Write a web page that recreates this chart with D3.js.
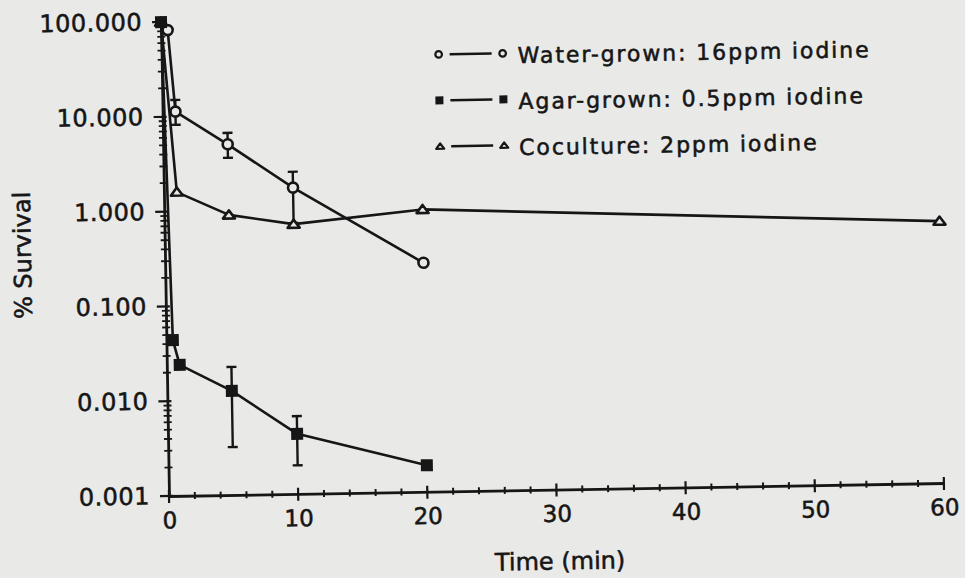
<!DOCTYPE html>
<html>
<head>
<meta charset="utf-8">
<script src="https://d3js.org/d3.v7.min.js"></script>
<style>
  html, body { margin: 0; padding: 0; background: #e9e9e8; }
  svg { display: block; font-family: "DejaVu Sans", sans-serif; }
  text { stroke: #161616; stroke-width: 0.55px; }
</style>
</head>
<body>
<svg id="chart" width="965" height="578"></svg>
<script>
// values
const waterTimes = [0.5, 1, 5, 10, 20];
const waterValues = [82, 11.3, 5.0, 1.7, 0.26];
const waterLow = [null, 8.2, 3.6, 0.72, null];
const waterHigh = [null, 15, 6.6, 2.5, null];

const agarTimes = [0, 0.5, 1, 5, 10, 20];
const agarValues = [100, 0.044, 0.024, 0.0125, 0.0043, 0.0019];
const agarLow = [null, null, null, 0.0032, 0.0020, null];
const agarHigh = [null, null, null, 0.0224, 0.0066, null];

const cocultureTimes = [0, 1, 5, 10, 20, 60];
const cocultureValues = [100, 1.6, 0.9, 0.7, 0.95, 0.58];

const xTicks = [0, 10, 20, 30, 40, 50, 60];
const yTicks = [0.001, 0.01, 0.1, 1, 10, 100];
const yTickLabels = ["0.001", "0.010", "0.100", "1.000", "10.000", "100.000"];
const legendLabels = ["Water-grown: 16ppm iodine", "Agar-grown: 0.5ppm iodine", "Coculture: 2ppm iodine"];

const ink = "#161616";
const paper = "#e9e9e8";

const plotWidth = 775;
const plotHeight = 474;

const x = d3.scaleLinear().domain([0, 60]).range([0, plotWidth]);
const y = d3.scaleLog().domain([0.001, 100]).range([0, -plotHeight]);

const svg = d3.select("#chart");

// the scan is tilted by about a degree, so the whole plot is drawn in a rotated frame
const g = svg.append("g")
    .attr("transform", "translate(169, 496) rotate(-0.96)");

/*
 * Axes
 */
const xAxis = d3.axisBottom(x)
    .tickValues(xTicks)
    .tickSize(0)
    .tickSizeOuter(0)
    .tickPadding(16);

const gX = g.append("g").call(xAxis);
gX.select(".domain").attr("stroke", ink).attr("stroke-width", 2.8);
gX.selectAll("text")
    .attr("fill", ink)
    .attr("font-size", 23)
    .attr("font-family", "DejaVu Sans, sans-serif");

const yAxis = d3.axisLeft(y)
    .tickValues(yTicks)
    .tickFormat((d, i) => yTickLabels[i])
    .tickSize(0)
    .tickSizeOuter(0)
    .tickPadding(19);

const gY = g.append("g").call(yAxis);
gY.select(".domain").attr("stroke", ink).attr("stroke-width", 2.8);
gY.selectAll("text")
    .attr("fill", ink)
    .attr("font-size", 24)
    .attr("letter-spacing", 0.5)
    .attr("font-family", "DejaVu Sans, sans-serif");

// ticks cross the axis lines, so draw them by hand
const xMinor = d3.range(2, 60, 2).filter(v => v % 10 !== 0);
g.append("g").selectAll("line")
    .data(xTicks)
    .enter().append("line")
      .attr("x1", d => x(d)).attr("x2", d => x(d))
      .attr("y1", -6).attr("y2", 7)
      .attr("stroke", ink).attr("stroke-width", 2.2);
g.append("g").selectAll("line")
    .data(xMinor)
    .enter().append("line")
      .attr("x1", d => x(d)).attr("x2", d => x(d))
      .attr("y1", -3.5).attr("y2", 3.5)
      .attr("stroke", ink).attr("stroke-width", 2);

const yMinor = [];
yTicks.slice(0, -1).forEach(decade => {
  d3.range(2, 10).forEach(k => yMinor.push(k * decade));
});
g.append("g").selectAll("line")
    .data(yTicks)
    .enter().append("line")
      .attr("x1", -9).attr("x2", 4)
      .attr("y1", d => y(d)).attr("y2", d => y(d))
      .attr("stroke", ink).attr("stroke-width", 2.2);
g.append("g").selectAll("line")
    .data(yMinor)
    .enter().append("line")
      .attr("x1", -4).attr("x2", 4)
      .attr("y1", d => y(d)).attr("y2", d => y(d))
      .attr("stroke", ink).attr("stroke-width", 1.8);

// axis titles
g.append("text")
    .text("Time (min)")
    .attr("x", 390)
    .attr("y", 80)
    .attr("text-anchor", "middle")
    .attr("font-size", 24)
    .attr("fill", ink);

g.append("text")
    .text("% Survival")
    .attr("text-anchor", "middle")
    .attr("font-size", 24)
    .attr("fill", ink)
    .attr("transform", "translate(-134, -243) rotate(-90)");

/*
 * Series
 */
const toPoints = (times, values, low, high) =>
  times.map((t, i) => ({t: t, v: values[i], lo: low ? low[i] : null, hi: high ? high[i] : null}));

const water = toPoints(waterTimes, waterValues, waterLow, waterHigh);
const agar = toPoints(agarTimes, agarValues, agarLow, agarHigh);
const coculture = toPoints(cocultureTimes, cocultureValues);

const line = d3.line()
    .x(d => x(d.t))
    .y(d => y(d.v));

const trianglePath = s => `M0,${-s * 0.75} L${s},${s * 0.6} L${-s},${s * 0.6} Z`;

function drawLine(points) {
  g.append("path")
      .attr("d", line(points))
      .attr("fill", "none")
      .attr("stroke", ink)
      .attr("stroke-width", 2.6)
      .attr("stroke-linejoin", "round");
}

function drawErrors(points) {
  const bars = g.append("g").selectAll("g")
    .data(points.filter(d => d.lo !== null))
    .enter().append("g")
      .attr("stroke", ink)
      .attr("stroke-width", 2.4);
  bars.append("line")
      .attr("x1", d => x(d.t)).attr("x2", d => x(d.t))
      .attr("y1", d => y(d.lo)).attr("y2", d => y(d.hi));
  bars.append("line")
      .attr("x1", d => x(d.t) - 5).attr("x2", d => x(d.t) + 5)
      .attr("y1", d => y(d.lo)).attr("y2", d => y(d.lo));
  bars.append("line")
      .attr("x1", d => x(d.t) - 5).attr("x2", d => x(d.t) + 5)
      .attr("y1", d => y(d.hi)).attr("y2", d => y(d.hi));
}

drawLine(coculture);
drawLine(water);
drawLine(agar);
drawErrors(water);
drawErrors(agar);

g.append("g").selectAll("path")
    .data(coculture)
    .enter().append("path")
      .attr("d", trianglePath(6))
      .attr("transform", d => `translate(${x(d.t)}, ${y(d.v)})`)
      .attr("fill", paper)
      .attr("stroke", ink)
      .attr("stroke-width", 2.6)
      .attr("stroke-linejoin", "round");

g.append("g").selectAll("circle")
    .data(water)
    .enter().append("circle")
      .attr("cx", d => x(d.t))
      .attr("cy", d => y(d.v))
      .attr("r", 5)
      .attr("fill", paper)
      .attr("stroke", ink)
      .attr("stroke-width", 2.6);

g.append("g").selectAll("rect")
    .data(agar)
    .enter().append("rect")
      .attr("x", d => x(d.t) - 6)
      .attr("y", d => y(d.v) - 6)
      .attr("width", 12)
      .attr("height", 12)
      .attr("fill", ink);

/*
 * Legend
 */
const legend = g.append("g")
    .attr("transform", "translate(277, -437)");

const rows = legend.selectAll("g")
    .data(legendLabels)
    .enter().append("g")
      .attr("transform", (d, i) => `translate(0, ${i * 46})`);

rows.append("line")
    .attr("x1", 11).attr("x2", 53)
    .attr("y1", 0).attr("y2", 0)
    .attr("stroke", ink)
    .attr("stroke-width", 2.4);

[0, 64].forEach(mx => {
  rows.filter((d, i) => i === 0).append("circle")
      .attr("cx", mx).attr("cy", 0).attr("r", 3.3)
      .attr("fill", paper).attr("stroke", ink).attr("stroke-width", 2.2);
  rows.filter((d, i) => i === 1).append("rect")
      .attr("x", mx - 4).attr("y", -4)
      .attr("width", 8).attr("height", 8)
      .attr("fill", ink);
  rows.filter((d, i) => i === 2).append("path")
      .attr("d", trianglePath(4))
      .attr("transform", `translate(${mx}, 0)`)
      .attr("fill", paper).attr("stroke", ink).attr("stroke-width", 2.2)
      .attr("stroke-linejoin", "round");
});

rows.append("text")
    .text(d => d)
    .attr("x", 79)
    .attr("y", 10)
    .attr("font-size", 22)
    .attr("letter-spacing", 1.9)
    .attr("fill", ink);
</script>
</body>
</html>
